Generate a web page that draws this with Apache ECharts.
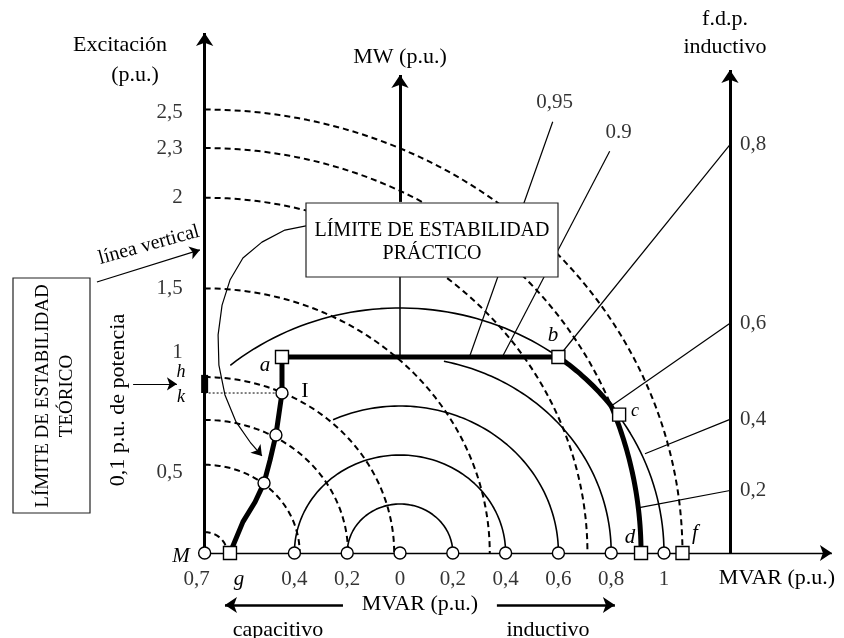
<!DOCTYPE html>
<html>
<head>
<meta charset="utf-8">
<script src="https://cdn.jsdelivr.net/npm/echarts@6/dist/echarts.min.js"></script>
<style>
  html, body { margin: 0; padding: 0; background: #fff; }
  #main { width: 844px; height: 638px; }
</style>
</head>
<body>
<div id="main"></div>
<script>
var M = -0.74;                 // centro de los círculos de excitación
var ejeFdp = 1.25;             // posición del eje f.d.p. (MVAR)
var excRadios = [0.085, 0.36, 0.543, 0.718, 1.08, 1.45, 1.653, 1.81];
var excEtiquetas = ["2,5", "2,3", "2", "1,5", "1", "0,5"];
var excEtiquetasY = [1.80, 1.653, 1.45, 1.08, 0.82, 0.33];
var mvaRadios = [0.2, 0.4, 0.6, 0.8, 1.0];
var mvaInicio = [180, 180, 115, 78, 130];      // ángulo inicial (grados)
var mvarTicks = [-0.4, -0.2, 0, 0.2, 0.4, 0.6, 0.8, 1];
var mvarEtiquetas = ["0,4", "0,2", "0", "0,2", "0,4", "0,6", "0,8", "1"];
var fdp = [0.95, 0.9, 0.8, 0.6, 0.4, 0.2];
var fdpEtiquetas = ["0,95", "0.9", "0,8", "0,6", "0,4", "0,2"];
var fdpDesde = [0.8, 0.8, 0.8, 0.6, 0.405, 0.185];   // MW donde empieza la recta
var fdpHastaP = [1.76, 1.64];                          // extremo de 0,95 y 0,9
var limiteIzq = [[-0.644, 0], [-0.595, 0.127], [-0.549, 0.208], [-0.515, 0.286],
                 [-0.492, 0.38], [-0.47, 0.482], [-0.447, 0.653], [-0.447, 0.8]];
var puntoB = [0.6, 0.8];
var puntoC = [0.8, 0.6];
var circulosCurva = [[-0.515, 0.286], [-0.47, 0.482], [-0.447, 0.653]];
var cuadrados = [[-0.447, 0.8], [0.6, 0.8], [0.83, 0.565], [0.913, 0], [1.07, 0], [-0.644, 0]];
// flecha curva desde el recuadro "práctico"
var flechaCurva = [[-0.356, 1.335], [-0.436, 1.318], [-0.523, 1.269], [-0.595, 1.204], [-0.644, 1.114],
                   [-0.674, 1.012], [-0.689, 0.89], [-0.686, 0.767], [-0.663, 0.645], [-0.621, 0.535],
                   [-0.568, 0.453]];
var puntaCurva = [-0.523, 0.396];

var fuente = '"Liberation Serif", "Times New Roman", serif';

function arco(cx, r, a0, a1) {
  var pts = [], n = 80;
  for (var i = 0; i <= n; i++) {
    var a = (a0 + (a1 - a0) * i / n) * Math.PI / 180;
    pts.push([cx + r * Math.cos(a), r * Math.sin(a)]);
  }
  return pts;
}

var chart = echarts.init(document.getElementById("main"));
var series = [];

// círculos de excitación (discontinuos)
excRadios.forEach(function (r) {
  series.push({
    type: "line", data: arco(M, r, 90, 0), showSymbol: false, silent: true, z: 2,
    lineStyle: { color: "#000", width: 2, type: [6, 4] }
  });
});

// círculos MVA (centro en el origen)
mvaRadios.forEach(function (r, i) {
  series.push({
    type: "line", data: arco(0, r, mvaInicio[i], 0), showSymbol: false, silent: true, z: 3,
    lineStyle: { color: "#000", width: 1.6 }
  });
});

// rectas de factor de potencia
var etiqFdp = [];
fdp.forEach(function (p, i) {
  var t = Math.tan(Math.acos(p));
  var p0 = fdpDesde[i];
  var p1 = i < 2 ? fdpHastaP[i] : ejeFdp / t;
  series.push({
    type: "line", data: [[p0 * t, p0], [p1 * t, p1]], showSymbol: false, silent: true, z: 3,
    lineStyle: { color: "#000", width: 1.2 }
  });
  if (i < 2) {
    etiqFdp.push({ value: [p1 * t, p1], name: fdpEtiquetas[i], label: { offset: [i === 0 ? 2 : 9, -19] } });
  } else {
    etiqFdp.push({ value: [ejeFdp, p1], name: fdpEtiquetas[i], label: { offset: [10, 0], align: "left" } });
  }
});

// curva límite (trazo grueso)
var angB = Math.atan2(puntoB[1], puntoB[0]) * 180 / Math.PI;
var angC = Math.atan2(puntoC[1], puntoC[0]) * 180 / Math.PI;
var angCM = Math.atan2(puntoC[1], puntoC[0] - M) * 180 / Math.PI;
var limite = limiteIzq.concat([puntoB], arco(0, 1, angB, angC), arco(M, 1.653, angCM, 0));
series.push({
  type: "line", data: limite, showSymbol: false, silent: true, z: 5,
  lineStyle: { color: "#000", width: 5, join: "round", cap: "round" }
});

// ejes y rectas auxiliares
var lineaSimple = function (pts, w, tipo, z) {
  return {
    type: "line", data: pts, showSymbol: false, silent: true, z: z || 4,
    lineStyle: { color: "#000", width: w, type: tipo || "solid" }
  };
};
series.push(lineaSimple([[0, 1.131], [0, 0.8]], 1.5));
series.push(lineaSimple([[M, 0.653], [-0.447, 0.653]], 1, [2, 2]));
series.push(lineaSimple([[M, 0.727], [M, 0.653]], 7, "solid", 6));
series.push(lineaSimple(flechaCurva, 1.2, "solid", 6));

// flechas
series.push({
  type: "lines", coordinateSystem: "cartesian2d", silent: true, z: 6,
  symbol: ["none", "arrow"], symbolSize: 13,
  lineStyle: { color: "#000", width: 3, opacity: 1 },
  data: [
    { coords: [[M, 0], [M, 2.122]] },
    { coords: [[0, 1.433], [0, 1.951]] },
    { coords: [[ejeFdp, 0], [ejeFdp, 1.971]] }
  ]
});
series.push({
  type: "lines", coordinateSystem: "cartesian2d", silent: true, z: 6,
  symbol: ["none", "arrow"], symbolSize: 12,
  lineStyle: { color: "#000", width: 1.4, opacity: 1 },
  data: [
    { coords: [[M, 0], [1.636, 0]] }
  ]
});
series.push({
  type: "lines", coordinateSystem: "cartesian2d", silent: true, z: 6,
  symbol: ["none", "arrow"], symbolSize: 12,
  lineStyle: { color: "#000", width: 2.5, opacity: 1 },
  data: [
    { coords: [[-0.216, -0.212], [-0.663, -0.212]] },
    { coords: [[0.367, -0.212], [0.814, -0.212]] }
  ]
});
series.push({
  type: "lines", coordinateSystem: "cartesian2d", silent: true, z: 6,
  symbol: ["none", "arrow"], symbolSize: 10,
  lineStyle: { color: "#000", width: 1.2, opacity: 1 },
  data: [
    { coords: [[-1.148, 1.106], [-0.758, 1.237]] },
    { coords: [[-1.011, 0.69], [-0.845, 0.69]] },
    { coords: [flechaCurva[flechaCurva.length - 1], puntaCurva] }
  ]
});

// marcadores
var circulosBase = [[M, 0]].concat(mvarTicks.map(function (x) { return [x, 0]; }));
series.push({
  type: "scatter", data: circulosBase.concat(circulosCurva), symbol: "circle", symbolSize: 12, z: 10, silent: true,
  itemStyle: { color: "#fff", borderColor: "#000", borderWidth: 1.4, opacity: 1 }
});
series.push({
  type: "scatter", data: cuadrados, symbol: "rect", symbolSize: 13, z: 10, silent: true,
  itemStyle: { color: "#fff", borderColor: "#000", borderWidth: 1.4, opacity: 1 }
});

// etiquetas de los ejes
var estiloEtiq = { show: true, position: "inside", formatter: "{b}", color: "#000", fontFamily: fuente, fontSize: 21 };
series.push({
  type: "scatter", symbolSize: 0, z: 12, silent: true,
  label: Object.assign({}, estiloEtiq, { offset: [-22, 0], align: "right" }),
  data: excEtiquetas.map(function (t, i) { return { name: t, value: [M, excEtiquetasY[i]] }; })
});
series.push({
  type: "scatter", symbolSize: 0, z: 12, silent: true,
  label: Object.assign({}, estiloEtiq, { offset: [0, 26] }),
  data: mvarEtiquetas.map(function (t, i) { return { name: t, value: [mvarTicks[i], 0] }; })
    .concat([{ name: "0,7", value: [M, 0], label: { offset: [-8, 26] } }])
});
series.push({
  type: "scatter", symbolSize: 0, z: 12, silent: true,
  label: Object.assign({}, estiloEtiq),
  data: etiqFdp
});

function texto(t, x, y, opts) {
  opts = opts || {};
  return {
    type: "text", x: x, y: y, z: 60, rotation: opts.rot || 0, silent: true,
    style: {
      text: t, fill: "#000", align: opts.align || "center", verticalAlign: "middle",
      font: (opts.italic ? "italic " : "") + (opts.size || 22) + "px " + fuente
    }
  };
}

var option = {
  animation: false,
  backgroundColor: "#fff",
  grid: { left: 0, right: 0, top: 0, bottom: 0 },
  xAxis: { type: "value", min: -400 / 264, max: 444 / 264, show: false },
  yAxis: { type: "value", min: -85 / 245, max: 553 / 245, show: false },
  series: series,
  graphic: [
    { type: "rect", z: 50, shape: { x: 306, y: 203, width: 252, height: 74 },
      style: { fill: "#fff", stroke: "#222", lineWidth: 1.2 } },
    { type: "rect", z: 50, shape: { x: 13, y: 278, width: 77, height: 235 },
      style: { fill: "#fff", stroke: "#222", lineWidth: 1.2 } },
    texto("LÍMITE DE ESTABILIDAD", 432, 231, { size: 20 }),
    texto("PRÁCTICO", 432, 254, { size: 20 }),
    texto("LÍMITE DE ESTABILIDAD", 43, 396, { rot: Math.PI / 2, size: 19 }),
    texto("TEÓRICO", 67, 396, { rot: Math.PI / 2, size: 19 }),
    texto("0,1 p.u. de potencia", 118, 400, { rot: Math.PI / 2, size: 22 }),
    texto("línea vertical", 149, 245, { rot: 0.27, size: 20 }),
    texto("Excitación", 120, 45),
    texto("(p.u.)", 135, 75),
    texto("MW (p.u.)", 400, 57),
    texto("f.d.p.", 725, 19),
    texto("inductivo", 725, 47),
    texto("MVAR (p.u.)", 777, 578),
    texto("MVAR (p.u.)", 420, 604),
    texto("capacitivo", 278, 630),
    texto("inductivo", 548, 630),
    texto("M", 181, 556, { italic: true, size: 21 }),
    texto("g", 239, 579, { italic: true, size: 21 }),
    texto("a", 265, 365, { italic: true, size: 21 }),
    texto("b", 553, 335, { italic: true, size: 21 }),
    texto("c", 635, 411, { italic: true, size: 18 }),
    texto("d", 630, 537, { italic: true, size: 21 }),
    texto("f", 695, 533, { italic: true, size: 21 }),
    texto("h", 181, 372, { italic: true, size: 18 }),
    texto("k", 181, 397, { italic: true, size: 18 }),
    texto("I", 305, 391, { size: 22 })
  ]
};

chart.setOption(option);
</script>
</body>
</html>
